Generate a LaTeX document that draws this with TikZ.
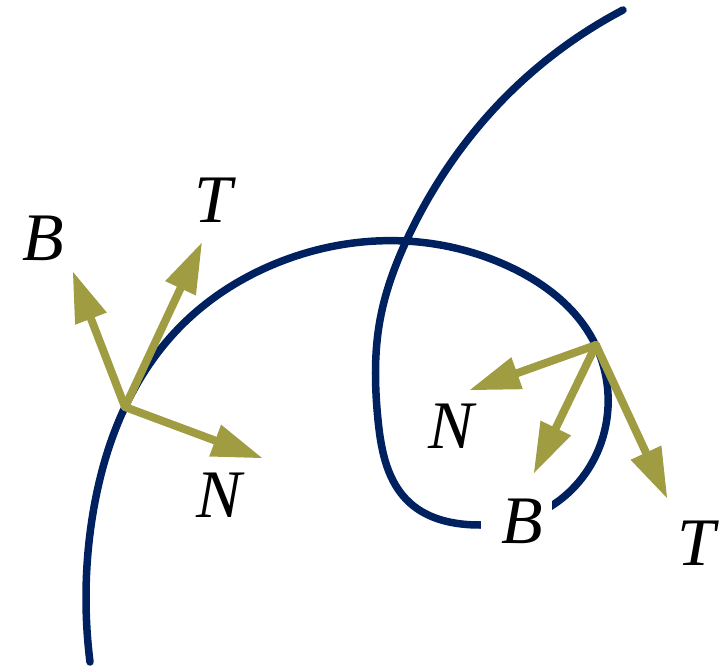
\documentclass[tikz,border=0pt]{standalone}
\usepackage{fontspec}
\setmainfont{Liberation Serif}
\usetikzlibrary{arrows.meta,hobby}
\definecolor{curvenavy}{RGB}{0,33,96}
\definecolor{vecolive}{RGB}{159,156,66}
\begin{document}
\begin{tikzpicture}[x=1pt,y=-1pt,
  curvestyle/.style={draw=curvenavy,line width=7.5pt,line cap=round},
  vecstyle/.style={draw=vecolive,line width=8pt,line cap=round,
    -{Triangle[length=50pt,width=34pt,fill=vecolive,line width=0pt]}},
  lbl/.style={inner sep=0pt,font=\fontsize{68}{80}\selectfont\itshape}]
\useasboundingbox (0,0) rectangle (725,668);
% space curve
\draw[curvestyle,use Hobby shortcut] (90,662) .. (86,600) .. (93,513)
  .. (125,407) .. (177,330) .. (277,263) .. (405,241) .. (510,267)
  .. (593,340) .. (608,407) .. (582,478) .. (520,520) .. (480,525)
  .. (410,503) .. (378,420) .. (380,320) .. (410,233) .. (493,110)
  .. (623,10);
% gap in the curve behind the right B label
\fill[white] (481,490) rectangle (552,540);
% left frame
\coordinate (O1) at (125,407);
\coordinate (T1) at (201.7,243);
\coordinate (B1) at (73,272);
\coordinate (N1) at (262,458);
\draw[vecstyle] (O1) -- (B1);
\draw[vecstyle] (O1) -- (T1);
\draw[vecstyle] (O1) -- (N1);
\node[lbl] (lB1) at (43,238) {B};
\node[lbl] (lT1) at (213,200) {T};
\node[lbl] (lN1) at (219,495) {N};
% right frame
\coordinate (O2) at (596,345);
\coordinate (N2) at (470,390);
\coordinate (B2) at (534,473);
\coordinate (T2) at (667,498);
\draw[vecstyle] (O2) -- (N2);
\draw[vecstyle] (O2) -- (B2);
\draw[vecstyle] (O2) -- (T2);
\node[lbl] (lN2) at (451,426) {N};
\node[lbl] (lB2) at (522,521) {B};
\node[lbl] (lT2) at (696,543) {T};
\end{tikzpicture}
\end{document}
